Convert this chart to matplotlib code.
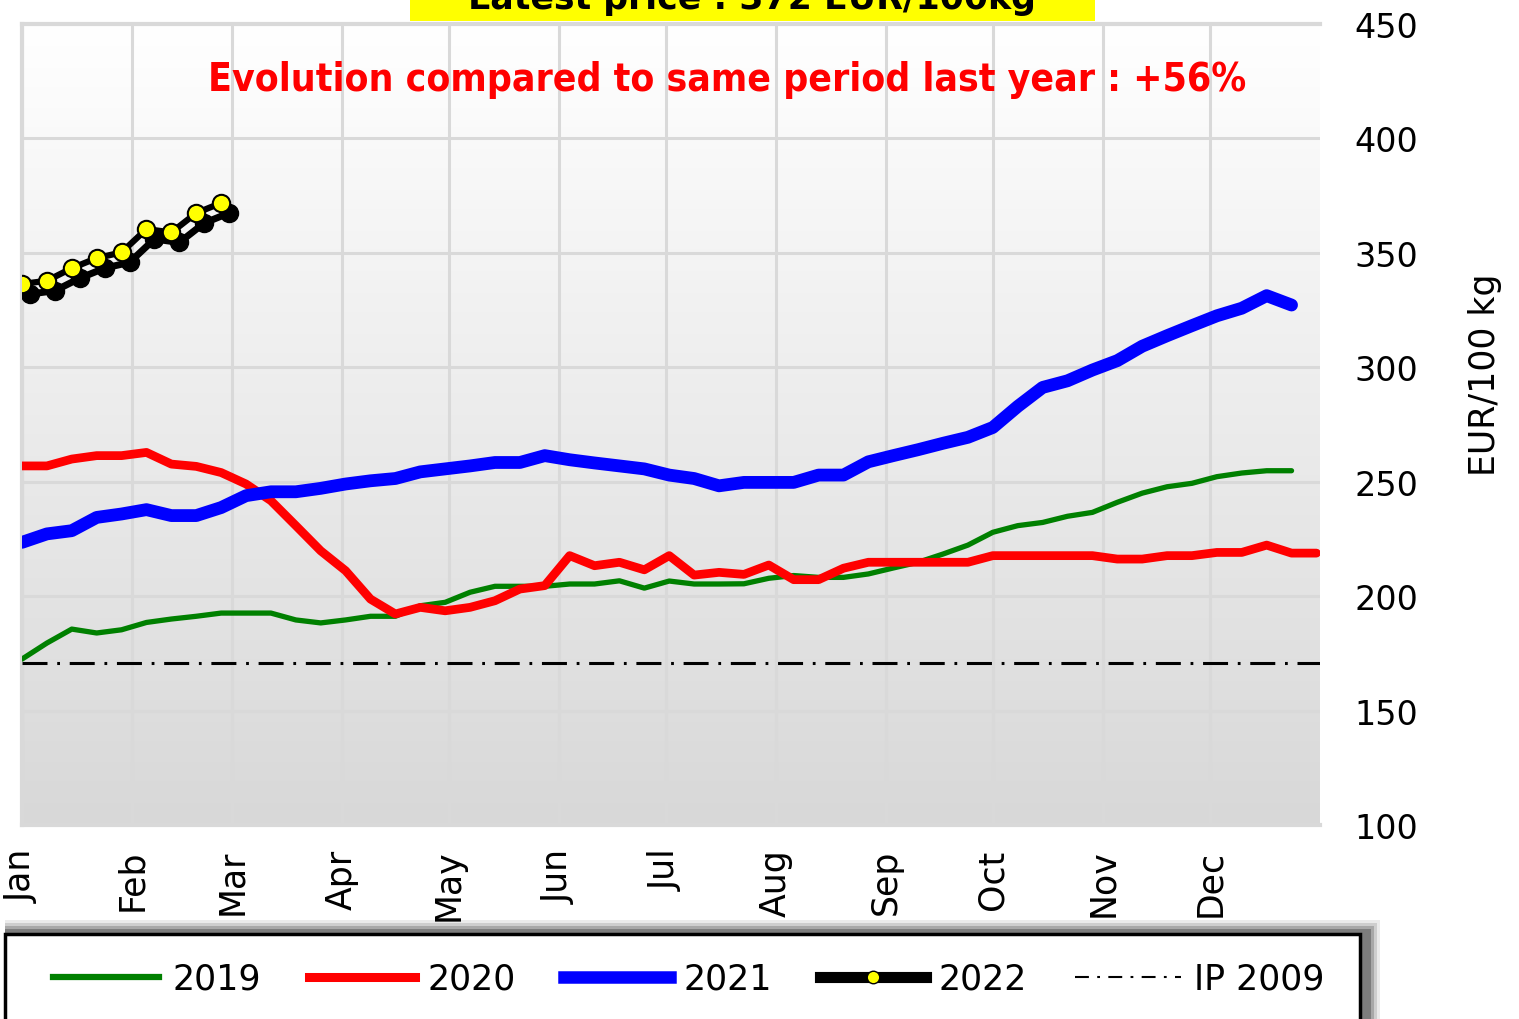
import numpy as np
import matplotlib
matplotlib.use("Agg")
import matplotlib.pyplot as plt
import matplotlib.transforms as mtransforms
from matplotlib.lines import Line2D
from matplotlib.patches import Rectangle

# weekly prices, EUR/100 kg (week index -> day of year = week * 7)
p2019 = [172.5, 179.5, 185.6, 183.9, 185.3, 188.5, 190.0, 191.2, 192.6, 192.6,
         192.6, 189.6, 188.3, 189.6, 191.2, 191.2, 195.8, 197.3, 201.7, 204.3,
         204.3, 204.3, 205.3, 205.3, 206.7, 203.5, 206.6, 205.3, 205.3, 205.4,
         207.8, 209.0, 208.2, 208.2, 209.7, 212.3, 214.8, 218.4, 222.3, 227.9,
         230.8, 232.2, 234.9, 236.6, 241.0, 245.0, 247.8, 249.3, 252.2, 253.8,
         254.8, 254.8]
p2020 = [256.9, 256.9, 259.9, 261.4, 261.4, 262.8, 257.7, 256.7, 254.0, 249.0,
         241.7, 230.8, 219.8, 211.1, 198.7, 192.2, 195.1, 193.6, 195.1, 198.0,
         203.1, 204.6, 217.7, 213.3, 214.8, 211.5, 217.7, 209.2, 210.4, 209.5,
         213.6, 207.2, 207.2, 212.2, 214.8, 214.8, 214.8, 214.8, 214.8, 217.7,
         217.7, 217.7, 217.7, 217.7, 216.2, 216.2, 217.7, 217.7, 219.1, 219.1,
         222.3, 218.8, 218.8]
p2021 = [223.5, 227.2, 228.6, 234.4, 235.9, 237.8, 235.2, 235.2, 238.7, 243.9,
         245.6, 245.6, 247.1, 249.0, 250.4, 251.4, 254.3, 255.6, 256.9, 258.4,
         258.4, 261.4, 259.6, 258.2, 256.9, 255.6, 252.9, 251.4, 248.2, 249.7,
         249.7, 249.7, 252.9, 252.9, 258.7, 261.4, 264.0, 266.8, 269.4, 273.7,
         282.9, 291.2, 294.1, 298.8, 302.9, 309.2, 313.8, 318.2, 322.5, 325.8,
         331.3, 327.2]
p2022 = [336.4, 337.8, 343.3, 347.7, 350.2, 360.4, 358.9, 367.4, 371.8]
ip2009 = 170.8

months = ['Jan', 'Feb', 'Mar', 'Apr', 'May', 'Jun', 'Jul', 'Aug', 'Sep', 'Oct', 'Nov', 'Dec']
month_start = [0, 31, 59, 90, 120, 151, 181, 212, 243, 273, 304, 334]
yticks = [100, 150, 200, 250, 300, 350, 400, 450]


def days(vals):
    return np.arange(len(vals)) * 7


W, H = 1519, 1020
fig = plt.figure(figsize=(W / 100, H / 100), dpi=100)
ax = fig.add_axes([22 / W, 1 - 826 / H, (1320 - 22) / W, (826 - 25) / H])

# gradient background
grad = np.linspace(0, 1, 256).reshape(-1, 1)
cmap = matplotlib.colors.LinearSegmentedColormap.from_list('bg', ['#ffffff', '#d8d8d8'])
ax.imshow(grad, cmap=cmap, extent=[0, 1, 0, 1], transform=ax.transAxes,
          aspect='auto', zorder=0, origin='upper')

ax.set_xlim(0, 365)
ax.set_ylim(100, 450)
ax.set_xticks(month_start)
ax.set_xticklabels(months, rotation=90, va='top', ha='center', fontsize=25)
ax.set_yticks(yticks)
ax.yaxis.tick_right()
ax.tick_params(axis='both', length=0)
ax.tick_params(axis='y', pad=25, labelsize=24)
ax.tick_params(axis='x', pad=17)
ax.grid(True, color='#d9d9d9', lw=2.2, zorder=1)
ax.set_axisbelow(True)
for s in ['top', 'left', 'bottom']:
    ax.spines[s].set_color('#d9d9d9')
    ax.spines[s].set_linewidth(3)
ax.spines['right'].set_visible(False)

fig.text(1485 / W, 1 - 375 / H, 'EUR/100 kg', rotation=90, ha='center',
         va='center', fontsize=25)

plt.rcParams['lines.scale_dashes'] = False
ax.axhline(ip2009, color='black', lw=2.2, ls=(0, (18, 7, 2, 7)), zorder=3)
ax.plot(days(p2019), p2019, color='#008000', lw=3.8, solid_capstyle='round', zorder=4)
ax.plot(days(p2020), p2020, color='#ff0000', lw=6.3, solid_capstyle='round', zorder=5)
ax.plot(days(p2021), p2021, color='#0000ff', lw=9.2, solid_capstyle='round', zorder=6)

# 2022 with drop shadow
shadow = mtransforms.offset_copy(ax.transData, fig=fig, x=8, y=-10, units='dots')
ax.plot(days(p2022), p2022, color='black', lw=5, marker='o', ms=13,
        mfc='black', mec='black', transform=shadow, zorder=7)
ax.plot(days(p2022), p2022, color='black', lw=4.5, marker='o', ms=12.5,
        mfc='#ffff00', mec='black', mew=1.5, zorder=8)

fig.text(727 / W, 1 - 80 / H, 'Evolution compared to same period last year : +56%',
         ha='center', va='center', color='#ff0000', fontsize=28,
         fontweight='bold', fontstretch='condensed')

# clipped title in yellow box
fig.patches.append(Rectangle((410 / W, 1 - 22 / H), (1095 - 410) / W, 22 / H + 0.01,
                             transform=fig.transFigure, facecolor='#ffff00',
                             edgecolor='none', zorder=1))
fig.text(752 / W, 1 - 9 / H, 'Latest price : 372 EUR/100kg', ha='center',
         va='baseline', fontsize=25, fontweight='bold', color='black', zorder=2)

# legend frame with soft shadow
for i, a in enumerate([0.08, 0.12, 0.18, 0.25]):
    g = 14 - 3 * i
    fig.patches.append(Rectangle((5 / W, -0.05), (1355 + g + 6) / W,
                                 (1020 - 935 + g) / H + 0.05,
                                 transform=fig.transFigure, facecolor='black',
                                 alpha=a, edgecolor='none', zorder=0))
fig.patches.append(Rectangle((5 / W, -0.05), 1355 / W, (1020 - 935) / H + 0.05,
                             transform=fig.transFigure, facecolor='white',
                             edgecolor='black', lw=2.5, zorder=1))

handles = [
    Line2D([0, 0.5, 1], [0, 0, 0], color='#008000', lw=4.5),
    Line2D([0, 0.5, 1], [0, 0, 0], color='#ff0000', lw=6.5),
    Line2D([0, 0.5, 1], [0, 0, 0], color='#0000ff', lw=9),
    Line2D([0, 0.5, 1], [0, 0, 0], color='black', lw=8, marker='o', ms=9,
           mfc='#ffff00', mec='black', mew=1, markevery=[1]),
    Line2D([0, 0.5, 1], [0, 0, 0], color='black', lw=1.5, ls=(0, (10, 6, 2, 6))),
]
labels = ['2019', '2020', '2021', '2022', 'IP 2009']
leg = fig.legend(handles, labels, loc='center left', bbox_to_anchor=(22 / W, 1 - 980 / H),
                 ncol=5, frameon=False, fontsize=25, handlelength=3.05,
                 handletextpad=0.38, columnspacing=1.38)

fig.savefig('out.png', dpi=100)
